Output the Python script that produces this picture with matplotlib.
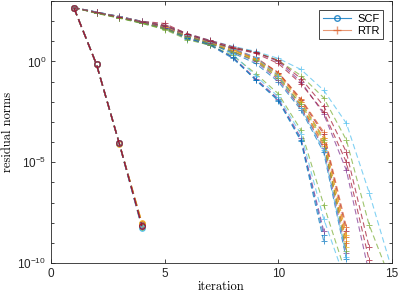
import numpy as np
import matplotlib
matplotlib.use("Agg")
import matplotlib.pyplot as plt
from matplotlib.lines import Line2D
from matplotlib.ticker import FixedLocator, FixedFormatter

plt.rcParams['font.family'] = ['Liberation Sans', 'DejaVu Sans']
plt.rcParams['mathtext.default'] = 'regular'

nan = np.nan
iterations = np.arange(1, 16)

matlab_colors = ['#0072BD', '#D95319', '#EDB120', '#7E2F8E', '#77AC30', '#4DBEEE', '#A2142F']

# SCF residual norms (log10), 7 runs
scf_log10 = [
    [2.67, -0.15, -4.06, -8.10],
    [2.67, -0.15, -4.05, -8.05],
    [2.67, -0.15, -4.07, -8.00],
    [2.67, -0.15, -4.06, -8.15],
    [2.67, -0.15, -4.06, -8.20],
    [2.67, -0.15, -4.06, -8.25],
    [2.67, -0.15, -4.06, -8.17],
]

# RTR residual norms (log10), 21 runs, iterations 1..15
rtr_log10 = [
    [2.67, 2.40, 2.17, 1.90, 1.62, 1.12, 0.80, 0.15, -0.90, -1.90, -3.90, -8.60, nan, nan, nan],
    [2.67, 2.44, 2.22, 1.97, 1.74, 1.32, 0.97, 0.60, 0.15, -0.60, -2.00, -3.80, -8.70, nan, nan],
    [2.67, 2.42, 2.18, 1.94, 1.70, 1.28, 0.93, 0.55, 0.10, -0.70, -2.20, -4.00, -8.90, nan, nan],
    [2.67, 2.41, 2.17, 1.91, 1.64, 1.15, 0.82, 0.22, -0.85, -1.85, -3.80, -8.40, nan, nan, nan],
    [2.67, 2.38, 2.14, 1.88, 1.58, 1.08, 0.80, 0.30, -0.60, -1.60, -3.40, -7.10, -10.6, nan, nan],
    [2.67, 2.45, 2.23, 1.98, 1.76, 1.28, 0.95, 0.35, -0.70, -1.75, -3.60, -7.80, -11.0, nan, nan],
    [2.67, 2.44, 2.23, 1.99, 1.88, 1.36, 1.00, 0.64, 0.20, -0.55, -1.90, -3.60, -8.40, nan, nan],
    [2.67, 2.41, 2.18, 1.92, 1.66, 1.16, 0.84, 0.20, -0.92, -1.95, -3.95, -8.90, nan, nan, nan],
    [2.67, 2.43, 2.21, 1.96, 1.73, 1.30, 0.96, 0.58, 0.15, -0.55, -1.85, -3.50, -8.20, nan, nan],
    [2.67, 2.42, 2.19, 1.95, 1.69, 1.25, 0.90, 0.50, 0.05, -0.80, -2.30, -4.20, -9.20, nan, nan],
    [2.67, 2.43, 2.20, 1.95, 1.72, 1.33, 0.98, 0.65, 0.45, 0.00, -1.00, -2.60, -5.40, -10.5, nan],
    [2.67, 2.39, 2.16, 1.90, 1.60, 1.22, 0.92, 0.68, 0.48, 0.05, -0.70, -1.80, -3.90, -8.10, -11.0],
    [2.67, 2.45, 2.23, 1.99, 1.78, 1.38, 1.04, 0.75, 0.50, 0.15, -0.40, -1.43, -3.07, -6.50, -10.3],
    [2.67, 2.44, 2.22, 1.98, 1.80, 1.38, 1.04, 0.72, 0.45, 0.05, -0.85, -2.20, -4.50, -9.20, nan],
    [2.67, 2.42, 2.19, 1.94, 1.68, 1.20, 0.87, 0.42, -0.10, -1.00, -2.40, -4.50, -9.80, nan, nan],
    [2.67, 2.43, 2.21, 1.96, 1.73, 1.30, 0.95, 0.60, 0.10, -0.70, -2.20, -4.10, -9.00, nan, nan],
    [2.67, 2.42, 2.20, 1.95, 1.71, 1.29, 0.94, 0.57, 0.12, -0.65, -2.00, -3.80, -8.60, nan, nan],
    [2.67, 2.41, 2.18, 1.93, 1.66, 1.24, 0.89, 0.48, 0.00, -0.90, -2.30, -4.30, -9.50, nan, nan],
    [2.67, 2.40, 2.16, 1.91, 1.63, 1.22, 0.88, 0.48, 0.05, -0.80, -2.10, -3.90, -9.40, nan, nan],
    [2.67, 2.45, 2.22, 1.97, 1.75, 1.32, 0.98, 0.62, 0.20, -0.70, -2.30, -4.40, -9.70, nan, nan],
    [2.67, 2.43, 2.20, 1.96, 1.76, 1.34, 0.99, 0.66, 0.40, -0.10, -1.10, -2.50, -5.00, -9.85, nan],
]

x_ticks = [0, 5, 10, 15]
y_major = [1e-10, 1e-5, 1e0]
y_major_labels = [r'$10^{-10}$', r'$10^{-5}$', r'$10^{0}$']

fig = plt.figure(figsize=(3.99, 2.99), dpi=100)
ax = fig.add_axes([0.128, 0.12, 0.854, 0.877])

for i, run in enumerate(rtr_log10):
    y = 10.0 ** np.array(run)
    ax.plot(iterations, y, linestyle=(0, (5, 3)), marker='+', markersize=5,
            color=matlab_colors[i % 7], lw=0.8, markeredgewidth=0.7, alpha=0.7)

for i, run in enumerate(scf_log10):
    y = 10.0 ** np.array(run)
    ax.plot(iterations[:len(run)], y, linestyle=(0, (6, 3)), marker='o', markersize=4,
            markerfacecolor='none', color=matlab_colors[i % 7], lw=1.0, markeredgewidth=0.8)

ax.set_yscale('log')
ax.set_xlim(0, 15)
ax.set_ylim(1e-10, 1e3)
ax.set_xticks(x_ticks)
ax.set_xticklabels([str(t) for t in x_ticks])
ax.yaxis.set_major_locator(FixedLocator(y_major))
ax.yaxis.set_major_formatter(FixedFormatter(y_major_labels))
ax.yaxis.set_minor_locator(FixedLocator([10.0 ** k for k in range(-10, 4) if k not in (-10, -5, 0)]))
ax.yaxis.set_minor_formatter(FixedFormatter([]))

axcol = '#262626'
for s in ax.spines.values():
    s.set_color(axcol)
    s.set_linewidth(0.6)
ax.tick_params(which='both', direction='in', top=True, right=True, colors=axcol,
               labelsize=8.5, width=0.6)
ax.tick_params(which='major', length=3)
ax.tick_params(which='minor', length=2.5)

ax.set_xlabel('iteration', family='cmr10', fontsize=9, labelpad=1)
ax.set_ylabel('residual norms', family='cmr10', fontsize=9, labelpad=2)

handles = [
    Line2D([], [], color=matlab_colors[0], lw=0.8, marker='o', markerfacecolor='none',
           markersize=4, alpha=0.8),
    Line2D([], [], color=matlab_colors[1], lw=0.8, marker='+', markersize=6, alpha=0.6),
]
leg = ax.legend(handles, ['SCF', 'RTR'], loc='upper right', fontsize=8,
                fancybox=False, framealpha=1, edgecolor=axcol, handlelength=2.6,
                borderpad=0.3, labelspacing=0.2, handletextpad=0.5,
                bbox_to_anchor=(0.99, 0.985))
leg.get_frame().set_linewidth(0.6)

fig.savefig('out.png', dpi=100)
